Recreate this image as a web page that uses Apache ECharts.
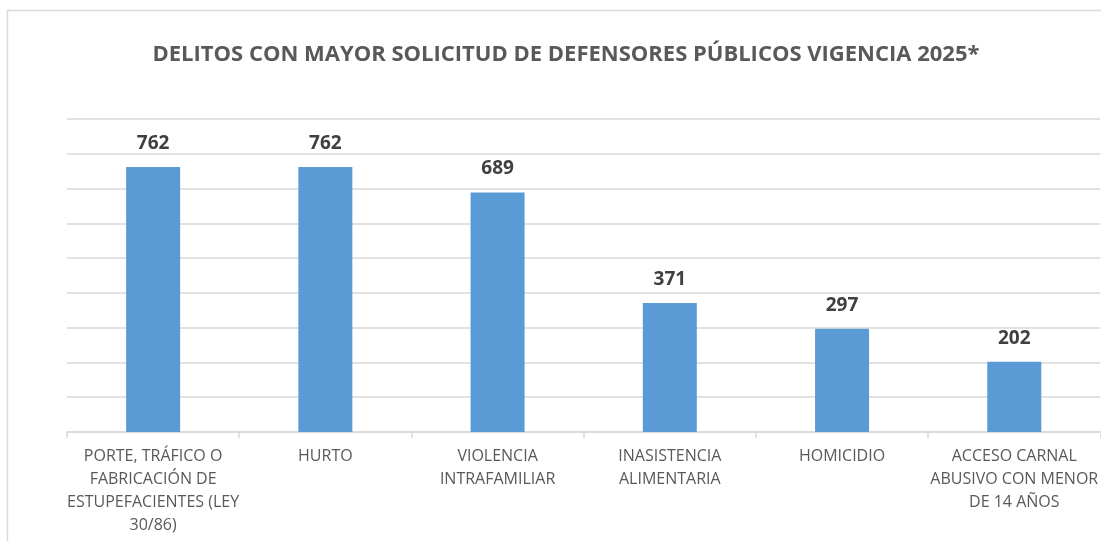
<!DOCTYPE html>
<html>
<head>
<meta charset="utf-8">
<script src="https://cdn.jsdelivr.net/npm/echarts@6/dist/echarts.min.js"></script>
<style>
  html, body { margin: 0; padding: 0; background: #fff; }
  #chart { width: 1101px; height: 541px; }
</style>
</head>
<body>
<div id="chart"></div>
<script>
const titleText = 'DELITOS CON MAYOR SOLICITUD DE DEFENSORES PÚBLICOS VIGENCIA 2025*'
const categories = [
  'PORTE, TRÁFICO O\nFABRICACIÓN DE\nESTUPEFACIENTES (LEY\n30/86)',
  'HURTO',
  'VIOLENCIA\nINTRAFAMILIAR',
  'INASISTENCIA\nALIMENTARIA',
  'HOMICIDIO',
  'ACCESO CARNAL\nABUSIVO CON MENOR\nDE 14 AÑOS'
]
const values = [762, 762, 689, 371, 297, 202]

const chart = echarts.init(document.getElementById('chart'))
chart.setOption({
  backgroundColor: '#ffffff',
  animation: false,
  textStyle: { fontFamily: 'Open Sans' },
  title: {
    text: titleText,
    left: 561,
    top: 39,
    textAlign: 'center',
    textStyle: {
      fontFamily: 'Open Sans',
      fontWeight: 'bold',
      fontSize: 22,
      color: '#595959'
    }
  },
  graphic: [{
    type: 'rect',
    shape: { x: 7.5, y: 10.5, width: 1200, height: 600 },
    style: { fill: 'none', stroke: '#d9d9d9', lineWidth: 1.5 },
    silent: true
  }],
  grid: {
    left: 67,
    right: -2,
    top: 119,
    bottom: 109
  },
  xAxis: {
    type: 'category',
    data: categories,
    axisLine: { lineStyle: { color: '#d9d9d9', width: 1.5 } },
    axisTick: { show: true, length: 6, lineStyle: { color: '#d9d9d9', width: 1.5 } },
    axisLabel: {
      interval: 0,
      margin: 13,
      fontSize: 16,
      lineHeight: 23,
      color: '#595959',
      fontFamily: 'Open Sans'
    }
  },
  yAxis: {
    type: 'value',
    min: 0,
    max: 900,
    interval: 100,
    axisLine: { show: false },
    axisTick: { show: false },
    axisLabel: { show: false },
    splitLine: { lineStyle: { color: '#d9d9d9', width: 1.5 } }
  },
  series: [{
    type: 'bar',
    data: values,
    barWidth: 54,
    itemStyle: { color: '#5b9bd5' },
    label: {
      show: true,
      position: 'top',
      distance: 14,
      fontFamily: 'Open Sans',
      fontWeight: 'bold',
      fontSize: 19,
      color: '#404040'
    }
  }]
})
</script>
</body>
</html>
